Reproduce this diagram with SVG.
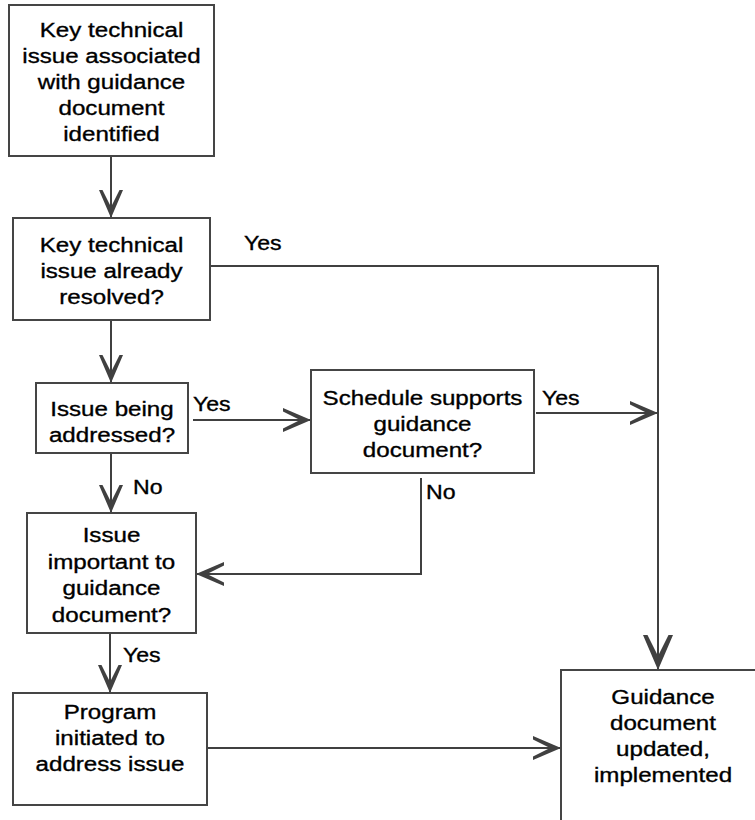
<svg xmlns="http://www.w3.org/2000/svg" width="755" height="820" viewBox="0 0 755 820">
<style>
.box{fill:#fff;stroke:#454545;stroke-width:2}
.c{fill:none;stroke:#404040;stroke-width:2}
.t{font-family:"Liberation Sans",Arial,sans-serif;font-size:21px;fill:#000;stroke:#000;stroke-width:0.35;text-anchor:middle}
.l{font-family:"Liberation Sans",Arial,sans-serif;font-size:21px;fill:#000;stroke:#000;stroke-width:0.35}
</style>
<defs>
<marker id="ah" markerUnits="userSpaceOnUse" viewBox="-30 -14 32 28" markerWidth="32" markerHeight="28" refX="0" refY="0" orient="auto">
<path d="M0,0 L-28,-12 L-28,-8.5 L-11,0 L-28,8.5 L-28,12 Z" fill="#404040"/>
</marker>
<marker id="ahL" markerUnits="userSpaceOnUse" viewBox="-37 -17 39 34" markerWidth="39" markerHeight="34" refX="0" refY="0" orient="auto">
<path d="M0,0 L-35,-15 L-35,-10.5 L-14,0 L-35,10.5 L-35,15 Z" fill="#404040"/>
</marker>
</defs>
<rect width="755" height="820" fill="#fff"/>
<g id="connectors">
<path class="c" d="M111,156 V218" marker-end="url(#ah)"/>
<path class="c" d="M111,320 V383" marker-end="url(#ah)"/>
<path class="c" d="M210,266 H658 V670" marker-end="url(#ahL)"/>
<path class="c" d="M193,420 H311" marker-end="url(#ah)"/>
<path class="c" d="M536,413 H658" marker-end="url(#ah)"/>
<path class="c" d="M421,478 V574 H196" marker-end="url(#ah)"/>
<path class="c" d="M111,453 V513" marker-end="url(#ah)"/>
<path class="c" d="M110,633 V693" marker-end="url(#ah)"/>
<path class="c" d="M207,748 H561" marker-end="url(#ah)"/>
</g>
<g id="labels">
<g transform="translate(244,0) scale(1.1,1)"><text class="l" x="0" y="250">Yes</text></g>
<g transform="translate(193,0) scale(1.1,1)"><text class="l" x="0" y="411">Yes</text></g>
<g transform="translate(542,0) scale(1.1,1)"><text class="l" x="0" y="405">Yes</text></g>
<g transform="translate(426,0) scale(1.1,1)"><text class="l" x="0" y="499">No</text></g>
<g transform="translate(133,0) scale(1.1,1)"><text class="l" x="0" y="494">No</text></g>
<g transform="translate(123,0) scale(1.1,1)"><text class="l" x="0" y="662">Yes</text></g>
</g>
<g id="n1">
<rect class="box" x="9" y="5" width="205" height="151"/>
<g transform="translate(111.5,0) scale(1.15,1)"><text class="t"><tspan x="0" y="37">Key technical</tspan><tspan x="0" y="63">issue associated</tspan><tspan x="0" y="89">with guidance</tspan><tspan x="0" y="115">document</tspan><tspan x="0" y="141">identified</tspan></text></g>
</g>
<g id="n2">
<rect class="box" x="13" y="218" width="197" height="102"/>
<g transform="translate(111.5,0) scale(1.15,1)"><text class="t"><tspan x="0" y="252">Key technical</tspan><tspan x="0" y="278">issue already</tspan><tspan x="0" y="304">resolved?</tspan></text></g>
</g>
<g id="n3">
<rect class="box" x="36" y="383" width="152" height="70"/>
<g transform="translate(112,0) scale(1.15,1)"><text class="t"><tspan x="0" y="416">Issue being</tspan><tspan x="0" y="442">addressed?</tspan></text></g>
</g>
<g id="n4">
<rect class="box" x="311" y="370" width="223" height="103"/>
<g transform="translate(422.5,0) scale(1.15,1)"><text class="t"><tspan x="0" y="405">Schedule supports</tspan><tspan x="0" y="431">guidance</tspan><tspan x="0" y="457">document?</tspan></text></g>
</g>
<g id="n5">
<rect class="box" x="27" y="513" width="169" height="120"/>
<g transform="translate(111.5,0) scale(1.15,1)"><text class="t"><tspan x="0" y="542">Issue</tspan><tspan x="0" y="569">important to</tspan><tspan x="0" y="595">guidance</tspan><tspan x="0" y="622">document?</tspan></text></g>
</g>
<g id="n6">
<rect class="box" x="13" y="693" width="194" height="112"/>
<g transform="translate(110,0) scale(1.15,1)"><text class="t"><tspan x="0" y="719">Program</tspan><tspan x="0" y="745">initiated to</tspan><tspan x="0" y="771">address issue</tspan></text></g>
</g>
<g id="n7">
<rect class="box" x="561" y="670" width="210" height="170"/>
<g transform="translate(663,0) scale(1.15,1)"><text class="t"><tspan x="0" y="704">Guidance</tspan><tspan x="0" y="730">document</tspan><tspan x="0" y="756">updated,</tspan><tspan x="0" y="782">implemented</tspan></text></g>
</g>
</svg>
